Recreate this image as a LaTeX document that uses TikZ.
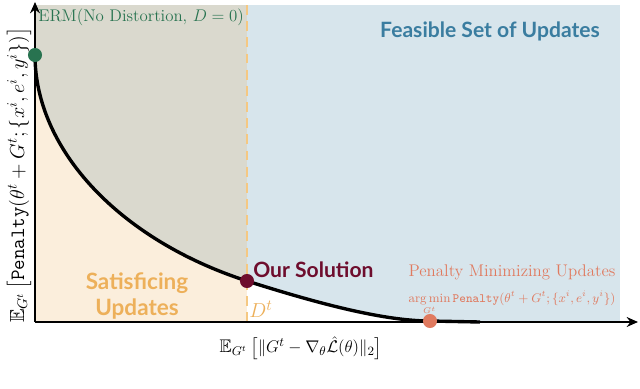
\documentclass[tikz,border=0pt]{standalone}
\usepackage{amssymb}
\usepackage{amsmath}
\usepackage{fontspec}
\newfontfamily\sanslabel{Lato}
\usetikzlibrary{arrows.meta, positioning, calc}

\definecolor{regiongray}{RGB}{218,217,206}
\definecolor{regionorange}{RGB}{251,238,220}
\definecolor{regionblue}{RGB}{215,229,236}
\definecolor{dashorange}{RGB}{245,200,130}
\definecolor{ermgreen}{RGB}{40,115,80}
\definecolor{feasblue}{RGB}{58,125,160}
\definecolor{satorange}{RGB}{237,176,90}
\definecolor{solmaroon}{RGB}{110,13,45}
\definecolor{pensalmon}{RGB}{224,122,95}

\begin{document}
\begin{tikzpicture}[x=0.025cm, y=-0.025cm,
  axis/.style={line width=1.8pt,-{Stealth[length=8pt,width=7pt]}},
  front/.style={line width=2.4pt},
  dot/.style={circle,inner sep=0pt,minimum size=10pt},
  bigsans/.style={font=\sanslabel\bfseries\fontsize{15}{17}\selectfont},
  serifnote/.style={font=\fontsize{12}{14}\selectfont}]

  \useasboundingbox (0,0) rectangle (640,389);

  % --- regions ---
  \coordinate (o) at (35,322);
  \coordinate (erm) at (35,55);
  \coordinate (sol) at (247,281);
  \coordinate (pen) at (430,321);
  \fill[regiongray] (35,5) rectangle (247,322);
  \fill[regionblue] (247,5) rectangle (620,322);
  \fill[regionorange] (erm) .. controls (35,150) and (120,240) .. (sol) -- (247,322) -- (o) -- cycle;
  \fill[white] (sol) .. controls (307,300) and (380,321) .. (pen) -- (430,322) -- (247,322) -- cycle;

  % --- D^t limit ---
  \draw[dashorange,line width=1.8pt,dash pattern=on 7pt off 4.5pt] (247,5) -- (247,322);

  % --- axes ---
  \coordinate (xend) at (638,322);
  \coordinate (yend) at (35,2);
  \draw[axis] (o) -- (xend);
  \draw[axis] (o) -- (yend);

  % --- trade-off curve ---
  \draw[front] (erm) .. controls (35,150) and (120,240) .. (sol)
     .. controls (307,300) and (380,321) .. (pen) -- (480,322);

  \node[dot,fill=ermgreen] (ermdot) at (erm) {};
  \node[dot,fill=solmaroon] (soldot) at (sol) {};
  \node[dot,fill=pensalmon] (pendot) at (pen) {};

  % --- labels ---
  \node[serifnote,text=ermgreen,anchor=west,inner sep=0pt] (ermlab) at (38,17) {ERM(No Distortion, $D=0$)};
  \node[bigsans,text=feasblue] (feas) at (490,31) {Feasible Set of Updates};
  \node[font=\sanslabel\bfseries\fontsize{16}{18}\selectfont,text=satorange,align=center] (sat) at (137,296)
     {Satisficing\\[0pt] Updates};
  \node[bigsans,text=solmaroon,anchor=west,inner sep=0pt] (sollab) at (253,270) {Our Solution};
  \node[serifnote,text=pensalmon] (penlab) at (512,272) {Penalty Minimizing Updates};
  \node[text=pensalmon,font=\fontsize{9}{11}\selectfont] (penmin) at (512,303)
     {$\displaystyle\operatorname*{arg\,min}_{G^t}\texttt{Penalty}(\theta^t+G^t;\{x^i,e^i,y^i\})$};
  \node[text=satorange,anchor=west,inner sep=0pt,font=\fontsize{15}{17}\selectfont] (dlab) at (249,309) {$D^t$};

  % --- axis titles ---
  \node[font=\fontsize{13}{15}\selectfont] (xlab) at (301,348)
     {$\mathbb{E}_{G^t}\left[\|G^t-\nabla_\theta\hat{\mathcal{L}}(\theta)\|_2\right]$};
  \node[rotate=90,inner sep=1pt,font=\fontsize{14.5}{16}\selectfont] (ylab) at (19,175)
     {$\mathbb{E}_{G^t}\left[\texttt{Penalty}(\theta^t+G^t;\{x^i,e^i,y^i\})\right]$};
\end{tikzpicture}
\end{document}
